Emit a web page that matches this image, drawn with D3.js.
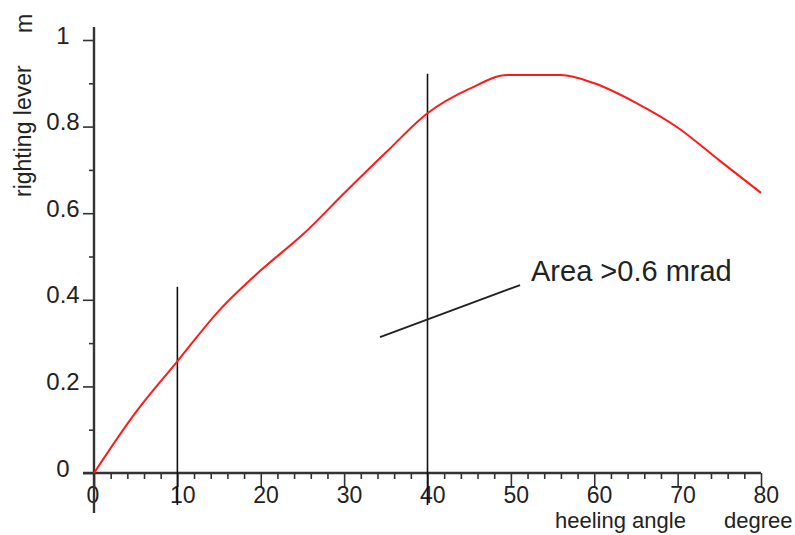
<!DOCTYPE html>
<html>
<head>
<meta charset="utf-8">
<script src="https://cdn.jsdelivr.net/npm/d3@7"></script>
<style>
  html, body { margin: 0; padding: 0; background: #fff; }
  svg { display: block; }
  text { font-family: "Liberation Sans", Arial, Helvetica, sans-serif; fill: #222; }
</style>
</head>
<body>
<svg id="chart" width="795" height="535"></svg>
<script>
// ---- data ----
const heelAngles   = [0, 5, 10, 15, 20, 25, 30, 35, 40, 45, 49.6, 56, 60, 65, 70, 75, 80];
const rightingArms = [0, 0.14, 0.258, 0.375, 0.468, 0.55, 0.646, 0.74, 0.831, 0.887, 0.919, 0.919, 0.90, 0.855, 0.798, 0.722, 0.647];
const xMajorTicks = [0, 10, 20, 30, 40, 50, 60, 70, 80];
const xMinorTicks = d3.range(0, 81, 2).filter(d => d % 10 !== 0);
const yMajorTicks = [0, 0.2, 0.4, 0.6, 0.8, 1];
const yTickLabels = ["0", "0.2", "0.4", "0.6", "0.8", "1"];
const yMinorTicks = [0.1, 0.3, 0.5, 0.7, 0.9];
const markerAngles = [10, 40];
const markerTops   = [0.43, 0.922];
const annotationText = "Area >0.6 mrad";
const annotationFrom = [34.3, 0.314];
const annotationTo   = [51.1, 0.434];

// ---- layout ----
const svg = d3.select("#chart");
const x = d3.scaleLinear().domain([0, 80]).range([94, 761]);
const y = d3.scaleLinear().domain([0, 1]).range([473, 40]);
const axisColor = "#333";

// x axis minor ticks
const gxMinor = svg.append("g").attr("transform", `translate(0,${y(0)})`)
  .call(d3.axisBottom(x).tickValues(xMinorTicks).tickSize(6).tickFormat(""));
// x axis major ticks
const gxMajor = svg.append("g").attr("transform", `translate(0,${y(0)})`)
  .call(d3.axisBottom(x).tickValues(xMajorTicks).tickSize(14).tickFormat(d3.format("d")));
[gxMinor, gxMajor].forEach(g => {
  g.select(".domain").remove();
  g.selectAll("line").attr("stroke", axisColor).attr("stroke-width", 1.6);
});
gxMajor.selectAll("text")
  .attr("y", 30).attr("dy", 0)
  .attr("x", -8).attr("text-anchor", "start")
  .style("font-size", "23px").attr("fill", "#222")
  .style("font-family", "'Liberation Sans', Arial, sans-serif");

// y axis minor ticks
const gyMinor = svg.append("g").attr("transform", `translate(${x(0)},0)`)
  .call(d3.axisLeft(y).tickValues(yMinorTicks).tickSize(5).tickFormat(""));
const gyMajor = svg.append("g").attr("transform", `translate(${x(0)},0)`)
  .call(d3.axisLeft(y).tickValues(yMajorTicks).tickSize(11)
        .tickFormat((d, i) => yTickLabels[i]));
[gyMinor, gyMajor].forEach(g => {
  g.select(".domain").remove();
  g.selectAll("line").attr("stroke", axisColor).attr("stroke-width", 1.6);
});
gyMajor.selectAll("text")
  .attr("x", -31).attr("dy", 3).attr("y", 0)
  .attr("text-anchor", "middle")
  .style("font-size", "24px").attr("fill", "#222")
  .style("font-family", "'Liberation Sans', Arial, sans-serif");

// axis lines
svg.append("line")
  .attr("x1", x(0) - 11).attr("x2", x(80))
  .attr("y1", y(0)).attr("y2", y(0))
  .attr("stroke", axisColor).attr("stroke-width", 2.4);
svg.append("line")
  .attr("x1", x(0)).attr("x2", x(0))
  .attr("y1", y(1) - 13).attr("y2", y(0) + 40)
  .attr("stroke", axisColor).attr("stroke-width", 2.4);

// vertical marker lines
svg.append("g").selectAll("line")
  .data(markerAngles)
  .join("line")
  .attr("x1", d => x(d)).attr("x2", d => x(d))
  .attr("y1", (d, i) => y(markerTops[i]))
  .attr("y2", y(0) + 32)
  .attr("stroke", "#111").attr("stroke-width", 1.6);

// righting lever curve
const line = d3.line()
  .x((d, i) => x(heelAngles[i]))
  .y(d => y(d))
  .curve(d3.curveMonotoneX);
svg.append("path")
  .datum(rightingArms)
  .attr("d", line)
  .attr("fill", "none")
  .attr("stroke", "#ff1a1a")
  .attr("stroke-width", 2)
  .attr("stroke-linejoin", "round");

// annotation
svg.append("line")
  .attr("x1", x(annotationFrom[0])).attr("y1", y(annotationFrom[1]))
  .attr("x2", x(annotationTo[0])).attr("y2", y(annotationTo[1]))
  .attr("stroke", "#222").attr("stroke-width", 1.8);
svg.append("text")
  .attr("x", x(annotationTo[0]) + 11)
  .attr("y", y(annotationTo[1]) - 4)
  .style("font-size", "29px")
  .text(annotationText);

// axis titles
svg.append("text")
  .attr("transform", "translate(31,197) rotate(-90)")
  .style("font-size", "23px")
  .text("righting lever");
svg.append("text")
  .attr("transform", "translate(32,33) rotate(-90)")
  .style("font-size", "23px")
  .text("m");
svg.append("text")
  .attr("x", 555).attr("y", 528)
  .style("font-size", "22px")
  .text("heeling angle");
svg.append("text")
  .attr("x", 724).attr("y", 528)
  .style("font-size", "22px")
  .text("degree");
</script>
</body>
</html>
